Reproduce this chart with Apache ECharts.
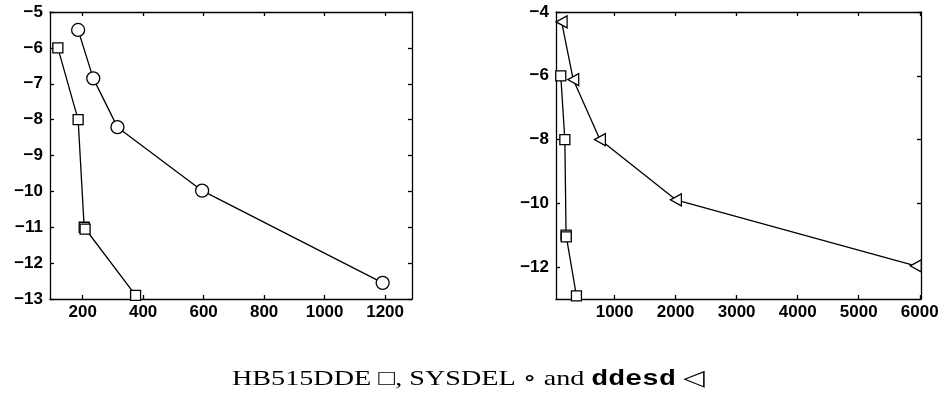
<!DOCTYPE html>
<html>
<head>
<meta charset="utf-8">
<script src="https://cdn.jsdelivr.net/npm/echarts@6/dist/echarts.min.js"></script>
<style>
  html, body { margin: 0; padding: 0; background: #fff; }
  #chart { width: 944px; height: 411px; }
</style>
</head>
<body>
<div id="chart"></div>
<script>
// HB515DDE (squares), shown in both panels
const hbX = [118, 185, 205, 208, 375];
const hbY = [-6.0, -8.0, -11.0, -11.05, -12.9];
// SYSDEL (circles), left panel
const sysX = [185, 235, 315, 595, 1192];
const sysY = [-5.5, -6.85, -8.21, -9.98, -12.55];
// ddesd (left-pointing triangles), right panel
const ddX = [132, 322, 759, 2004, 5933];
const ddY = [-4.31, -6.12, -8.0, -9.89, -11.96];

// tick labels
const leftXTicks = [200, 400, 600, 800, 1000, 1200];
const leftYTicks = [-13, -12, -11, -10, -9, -8, -7, -6, -5];
const rightXTicks = [1000, 2000, 3000, 4000, 5000, 6000];
const rightYTicks = [-12, -10, -8, -6, -4];

const pairs = (xs, ys) => xs.map((x, i) => [x, ys[i]]);
const fmt = v => String(v).replace('-', '\u2212');

const labelStyle = { color: '#000', fontSize: 17, fontFamily: 'Liberation Sans, Arial, sans-serif', fontWeight: 'bold' };
const lineStyleAxis = { color: '#000', width: 1.3 };

function xAxes(gi, min, max, ticks) {
  return [
    {
      type: 'value', gridIndex: gi, min, max, position: 'bottom',
      axisLine: { show: true, onZero: false, lineStyle: lineStyleAxis },
      axisTick: { show: true, inside: true, length: 4, customValues: ticks, lineStyle: lineStyleAxis },
      axisLabel: { show: true, customValues: ticks, margin: 5, formatter: fmt, ...labelStyle },
      splitLine: { show: false }
    },
    {
      type: 'value', gridIndex: gi, min, max, position: 'top',
      axisLine: { show: true, onZero: false, lineStyle: lineStyleAxis },
      axisTick: { show: true, inside: true, length: 4, customValues: ticks, lineStyle: lineStyleAxis },
      axisLabel: { show: false },
      splitLine: { show: false }
    }
  ];
}
function yAxes(gi, min, max, ticks) {
  return [
    {
      type: 'value', gridIndex: gi, min, max, position: 'left',
      axisLine: { show: true, onZero: false, lineStyle: lineStyleAxis },
      axisTick: { show: true, inside: true, length: 4, customValues: ticks, lineStyle: lineStyleAxis },
      axisLabel: { show: true, customValues: ticks, margin: 7, formatter: fmt, ...labelStyle },
      splitLine: { show: false }
    },
    {
      type: 'value', gridIndex: gi, min, max, position: 'right',
      axisLine: { show: true, onZero: false, lineStyle: lineStyleAxis },
      axisTick: { show: true, inside: true, length: 4, customValues: ticks, lineStyle: lineStyleAxis },
      axisLabel: { show: false },
      splitLine: { show: false }
    }
  ];
}

const markerStyle = { color: '#fff', borderColor: '#000', borderWidth: 1.3 };
const seriesLine = { color: '#000', width: 1.3 };
const triLeft = 'path://M0,5 L10,0 L10,10 Z';

function lineSeries(xi, yi, data, symbol, size) {
  return {
    type: 'line', xAxisIndex: xi, yAxisIndex: yi, data,
    symbol, symbolSize: size, showAllSymbol: true,
    lineStyle: seriesLine, itemStyle: markerStyle,
    animation: false, silent: true, z: 3
  };
}

const chart = echarts.init(document.getElementById('chart'), null, { renderer: 'canvas' });
chart.setOption({
  backgroundColor: '#fff',
  animation: false,
  grid: [
    { left: 50, top: 12, width: 362, height: 287 },
    { left: 556, top: 12, width: 365, height: 287 }
  ],
  xAxis: [
    ...xAxes(0, 92, 1289, leftXTicks),
    ...xAxes(1, 40, 6020, rightXTicks)
  ],
  yAxis: [
    ...yAxes(0, -13, -5, leftYTicks),
    ...yAxes(1, -13, -4, rightYTicks)
  ],
  series: [
    lineSeries(0, 0, pairs(hbX, hbY), 'rect', 10),
    lineSeries(0, 0, pairs(sysX, sysY), 'circle', 13),
    lineSeries(2, 2, pairs(hbX, hbY), 'rect', 10),
    lineSeries(2, 2, pairs(ddX, ddY), triLeft, [11, 12])
  ],
  graphic: [
    {
      // caption, widened horizontally like the printed figure text
      type: 'text', x: 232, y: 368, scaleX: 1.28,
      style: {
        text: '{a|HB515DDE \u25A1, SYSDEL \u2218 and }{b|ddesd}{a| \u25C1}',
        rich: {
          a: { fontFamily: 'Liberation Serif, DejaVu Serif, serif', fontSize: 22, fill: '#000' },
          b: { fontFamily: 'Liberation Mono, DejaVu Sans Mono, monospace', fontSize: 22, fontWeight: 'bold', fill: '#000' }
        }
      }
    }
  ]
});
</script>
</body>
</html>
